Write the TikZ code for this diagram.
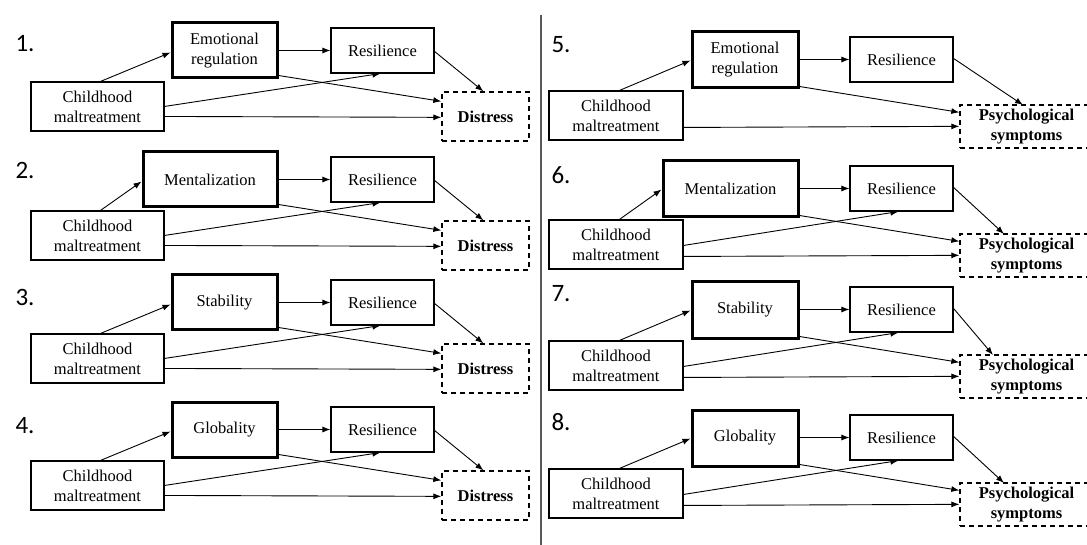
\documentclass[tikz,border=0pt]{standalone}
\usepackage{fontspec}
\setmainfont{Liberation Serif}
\newfontfamily\numfont{Carlito}
\usetikzlibrary{arrows.meta,calc}
\tikzset{
  txt/.style={font=\fontsize{16.5}{20}\selectfont},
  plainbox/.style={draw, line width=1.1pt, inner sep=0pt, align=center, txt},
  medbox/.style={draw, line width=3pt, inner sep=0pt, align=center, txt},
  outbox/.style={draw, dash pattern=on 5pt off 4pt, line width=1.3pt, inner sep=0pt, align=center, font=\fontsize{16.5}{20}\selectfont\bfseries},
  arr/.style={-{Latex[length=8pt,width=6pt]}, line width=0.9pt},
  numlbl/.style={font=\numfont\fontsize{25}{25}\selectfont, inner sep=0pt},
  divider/.style={line width=2pt, draw=black!65},
}
% name, x1, y1, x2, y2, style, text
\newcommand\mkbox[7]{\node[#6, minimum width={(#4)-(#2)}, minimum height={(#5)-(#3)}] (#1) at ({((#2)+(#4))/2},{((#3)+(#5))/2}) {#7};}
% id, number, mediator text, mediator left x, base y, label y
\newcommand\mkleft[6]{%
\begin{scope}[shift={(0,#5)}]
  \node[numlbl] (n#1) at (25,#6) {#2.};
  \mkbox{m#1}{#4}{0}{277}{55}{medbox}{#3}
  \mkbox{r#1}{331}{5}{434}{50}{plainbox}{Resilience}
  \mkbox{c#1}{31}{59}{164}{108}{plainbox}{Childhood\\maltreatment}
  \mkbox{d#1}{442}{69}{529}{118}{outbox}{Distress}
  \draw[arr] ($(c#1.north west)+(70,0)$) -- ($(m#1.north west)+(0,31)$);
  \draw[arr] (r#1.west -| m#1.east) -- (r#1.west);
  \draw[arr] ($(m#1.south east)+(0,-4)$) -- ($(d#1.north west)+(0,10)$);
  \draw[arr] ($(c#1.north east)+(0,25)$) -- ($(r#1.south west)+(50,0)$);
  \draw[arr] ($(c#1.north east)+(0,35)$) -- ($(d#1.north west)+(0,26)$);
  \draw[arr] ($(r#1.north east)+(0,24)$) -- ($(d#1.north west)+(42,0)$);
\end{scope}}
% id, number, mediator text, mediator left x, base y, label y, x of arrow into top of outcome
\newcommand\mkright[7]{%
\begin{scope}[shift={(0,#5)}]
  \node[numlbl] (n#1) at (561,#6) {#2.};
  \mkbox{m#1}{#4}{0}{798}{56}{medbox}{#3}
  \mkbox{r#1}{850}{5}{953}{50}{plainbox}{Resilience}
  \mkbox{c#1}{549}{59}{683}{108}{plainbox}{Childhood\\maltreatment}
  \mkbox{d#1}{960}{73}{1093}{116}{outbox}{Psychological\\symptoms}
  \draw[arr] ($(c#1.north west)+(71,0)$) -- ($(m#1.north west)+(0,30)$);
  \draw[arr] (r#1.west -| m#1.east) -- (r#1.west);
  \draw[arr] ($(m#1.south east)+(0,-3)$) -- ($(d#1.north west)+(0,8)$);
  \draw[arr] ($(c#1.north east)+(0,37)$) -- ($(d#1.north west)+(0,22)$);
  \draw[arr] ($(r#1.north east)+(0,22)$) -- (#7,73);
\end{scope}}
\begin{document}
\begin{tikzpicture}[x=1pt,y=-1pt]
  \useasboundingbox (0,0) rectangle (1087,545);
  \fill[white] (0,0) rectangle (1087,545);
  \clip (0,0) rectangle (1087,545);
  \coordinate (divtop) at (541,15);
  \coordinate (divbot) at (541,545);
  \draw[divider] (divtop) -- (divbot);
  \mkleft{1}{1}{Emotional\\regulation}{172}{23}{21}
  \mkleft{2}{2}{Mentalization}{143}{152}{18}
  \mkleft{3}{3}{Stability}{172}{275}{22}
  \mkleft{4}{4}{Globality}{172}{402}{24}
  \mkright{5}{5}{Emotional\\regulation}{692}{32}{13}{1023}
  \mkright{6}{6}{Mentalization}{663}{161}{14}{1004}
  \mkright{7}{7}{Stability}{692}{282}{12}{993}
  \mkright{8}{8}{Globality}{692}{410}{12}{1004}
  \draw[arr] ($(c6.north east)+(0,26)$) -- ($(r6.south west)+(49,0)$);
  \draw[arr] ($(c7.north east)+(0,26)$) -- ($(r7.south west)+(49,0)$);
  \draw[arr] ($(c8.north east)+(0,26)$) -- ($(r8.south west)+(49,0)$);
\end{tikzpicture}
\end{document}
